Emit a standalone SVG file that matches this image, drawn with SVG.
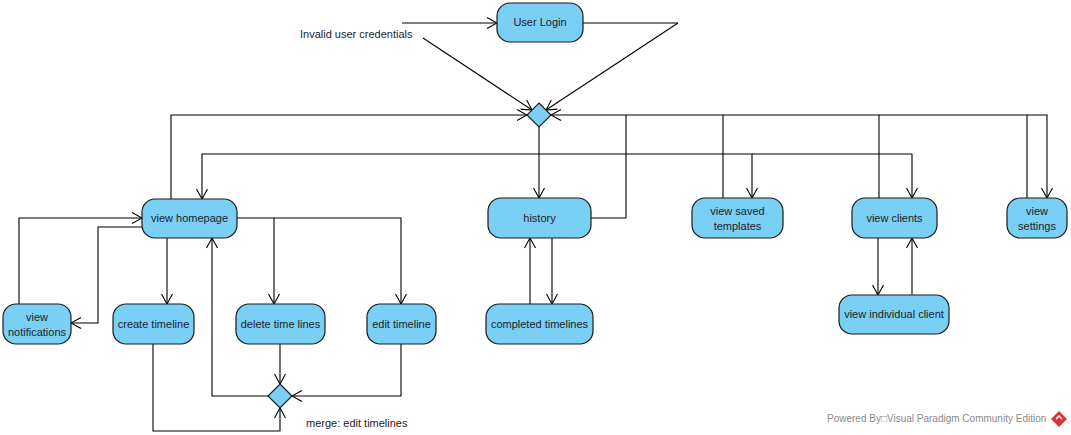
<svg xmlns="http://www.w3.org/2000/svg" width="1071" height="435" viewBox="0 0 1071 435">
  <style>
    .act { fill: #7ACFF5; stroke: #1a1a1a; stroke-width: 1.2; }
    .dec { fill: #7ACFF5; stroke: #1a1a1a; stroke-width: 1.2; }
    .lbl { font-family: "Liberation Sans", Arial, sans-serif; font-size: 11px; fill: #1c1c2a; text-anchor: middle; }
    .note { font-family: "Liberation Sans", Arial, sans-serif; font-size: 11px; fill: #1c1c2a; }
    .wm { font-family: "Liberation Sans", Arial, sans-serif; font-size: 10px; fill: #8a8a8a; }
    .edge { fill: none; stroke: #000; stroke-width: 1.1; marker-end: url(#open); }
    .plain { fill: none; stroke: #000; stroke-width: 1.1; }
  </style>
  <defs>
    <marker id="open" viewBox="0 0 12 12" refX="11" refY="6" markerWidth="12" markerHeight="12" markerUnits="userSpaceOnUse" orient="auto">
      <path d="M1,0.5 L11,6 L1,11.5" fill="none" stroke="#000" stroke-width="1.1"/>
    </marker>
  </defs>
  <rect width="1071" height="435" fill="#ffffff"/>

  <!-- connectors -->
  <g id="connectors">
    <!-- login flow -->
    <path class="edge" d="M402,23 H497"/>
    <path class="plain" d="M583,23 H678"/>
    <path class="edge" d="M678,23 L546,110"/>
    <path class="edge" d="M423,38 L532,110"/>
    <!-- view homepage up to decision -->
    <path class="edge" d="M171,199 V115 H527"/>
    <!-- decision fan-out along y=154 -->
    <path class="plain" d="M539,127 V154"/>
    <path class="edge" d="M539,154 H202 V199"/>
    <path class="edge" d="M539,154 V198"/>
    <path class="edge" d="M539,154 H752 V198"/>
    <path class="edge" d="M752,154 H912 V198"/>
    <!-- returns to decision along y=115 -->
    <path class="edge" d="M591,218 H626 V115 H551"/>
    <path class="plain" d="M723,198 V115 H626"/>
    <path class="plain" d="M879,198 V115 H723"/>
    <path class="plain" d="M1027,198 V115 H879"/>
    <path class="edge" d="M1027,115 H1047 V198"/>
    <!-- history / completed timelines -->
    <path class="edge" d="M552,238 V304"/>
    <path class="edge" d="M530,304 V238"/>
    <!-- clients -->
    <path class="edge" d="M878,238 V295"/>
    <path class="edge" d="M912,295 V238"/>
    <!-- homepage and notifications -->
    <path class="edge" d="M19,304 V218 H142"/>
    <path class="edge" d="M142,227 H98 V323 H71"/>
    <!-- homepage to timeline actions -->
    <path class="edge" d="M167,238 V304"/>
    <path class="edge" d="M237,218 H274 V304"/>
    <path class="edge" d="M274,218 H401 V304"/>
    <!-- into merge -->
    <path class="edge" d="M280,344 V384"/>
    <path class="edge" d="M401,344 V396 H292"/>
    <path class="edge" d="M153,344 V431 H280 V408"/>
    <!-- merge back to homepage -->
    <path class="edge" d="M268,396 H212 V238"/>
  </g>

  <!-- nodes -->
  <g id="user-login">
    <rect class="act" x="497" y="3" width="86" height="39" rx="13"/>
    <text class="lbl" x="540" y="26">User Login</text>
  </g>
  <g id="login-decision">
    <polygon class="dec" points="539,103 551,115 539,127 527,115"/>
  </g>
  <g id="invalid-label">
    <text class="note" x="300" y="38">Invalid user credentials</text>
  </g>
  <g id="view-homepage">
    <rect class="act" x="142" y="199" width="95" height="39" rx="13"/>
    <text class="lbl" x="189.5" y="222">view homepage</text>
  </g>
  <g id="history">
    <rect class="act" x="488" y="198" width="103" height="40" rx="13"/>
    <text class="lbl" x="539.5" y="222">history</text>
  </g>
  <g id="view-saved-templates">
    <rect class="act" x="692" y="198" width="91" height="40" rx="13"/>
    <text class="lbl" x="737.5" y="215">view saved</text>
    <text class="lbl" x="737.5" y="230">templates</text>
  </g>
  <g id="view-clients">
    <rect class="act" x="852" y="198" width="85" height="40" rx="13"/>
    <text class="lbl" x="894.5" y="222">view clients</text>
  </g>
  <g id="view-settings">
    <rect class="act" x="1007" y="198" width="60" height="40" rx="13"/>
    <text class="lbl" x="1037" y="215">view</text>
    <text class="lbl" x="1037" y="230">settings</text>
  </g>
  <g id="view-notifications">
    <rect class="act" x="3" y="304" width="68" height="40" rx="13"/>
    <text class="lbl" x="37" y="321">view</text>
    <text class="lbl" x="37" y="336">notifications</text>
  </g>
  <g id="create-timeline">
    <rect class="act" x="113" y="304" width="81" height="40" rx="13"/>
    <text class="lbl" x="153.5" y="328">create timeline</text>
  </g>
  <g id="delete-time-lines">
    <rect class="act" x="236" y="304" width="89" height="40" rx="13"/>
    <text class="lbl" x="280.5" y="328">delete time lines</text>
  </g>
  <g id="edit-timeline">
    <rect class="act" x="367" y="304" width="69" height="40" rx="13"/>
    <text class="lbl" x="401.5" y="328">edit timeline</text>
  </g>
  <g id="completed-timelines">
    <rect class="act" x="486" y="304" width="107" height="40" rx="13"/>
    <text class="lbl" x="539.5" y="328">completed timelines</text>
  </g>
  <g id="view-individual-client">
    <rect class="act" x="839" y="295" width="110" height="39" rx="13"/>
    <text class="lbl" x="894" y="318">view individual client</text>
  </g>
  <g id="merge-edit-timelines">
    <polygon class="dec" points="280,384 292,396 280,408 268,396"/>
    <text class="note" x="306" y="427">merge: edit timelines</text>
  </g>

  <!-- footer -->
  <g id="footer">
    <text class="wm" x="827" y="422">Powered By□Visual Paradigm Community Edition</text>
    <polygon points="1059,411 1067,419 1059,427 1051,419" fill="#d9343a"/>
    <path d="M1056,419 L1059,416 L1062,419" fill="none" stroke="#fff" stroke-width="1.3"/>
  </g>
</svg>
